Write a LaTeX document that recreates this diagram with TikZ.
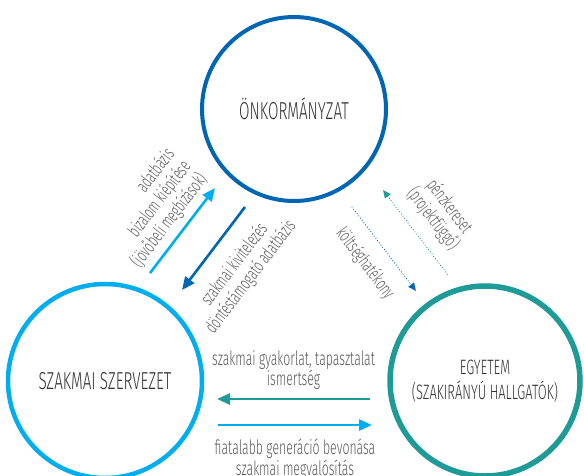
\documentclass[tikz,border=0pt]{standalone}
\usepackage{fontspec}
\setmainfont{Fira Sans Light}[FakeStretch=0.62]
\usetikzlibrary{arrows.meta, positioning, calc}
\definecolor{onkblue}{RGB}{0, 102, 179}
\definecolor{szakcyan}{RGB}{0, 174, 239}
\definecolor{egyteal}{RGB}{30, 155, 150}
\definecolor{labelgray}{RGB}{90, 90, 90}
\definecolor{actorgray}{RGB}{50, 50, 50}

\begin{document}
\begin{tikzpicture}[
        x=1pt, y=-1pt,
        actor/.style={circle, minimum size=#1, align=center, text=actorgray, font=\fontsize{24.5}{26}\selectfont},
        flow/.style={line width=2.6pt, >={Triangle[length=13pt, width=11pt]}},
        hint/.style={line width=1.3pt, line cap=round, dash pattern=on 0.01pt off 2.8pt, >={Triangle[length=8pt, width=7pt]}},
        lbl/.style={text=labelgray, font=\fontsize{18.6}{20.5}\selectfont, align=center, inner sep=1pt},
        flatlbl/.style={lbl, font=\fontsize{19.8}{18.5}\selectfont}
    ]
    \useasboundingbox (0,0) rectangle (584,475);

    % the three actors
    \node[actor=184pt, draw=onkblue, line width=4pt] (onk) at (294,109) {ÖNKORMÁNYZAT};
    \node[actor=194pt, draw=szakcyan, line width=4.5pt] (szak) at (105,381) {SZAKMAI SZERVEZET};
    \node[actor=190pt, draw=egyteal, line width=5.5pt, font=\fontsize{20.8}{25}\selectfont] (egy) at (485,381) {EGYETEM\\(SZAKIRÁNYÚ HALLGATÓK)};

    % szakmai szervezet <-> önkormányzat
    \coordinate (cyA) at (150,273);
    \coordinate (cyB) at (215,188);
    \draw[flow, szakcyan, ->] (cyA) -- (cyB)
        node[lbl, midway, sloped, above=5pt, align=right] {adatbázis\\bizalom kiépítése\\(jövőbeli megbízások)};
    \coordinate (dbA) at (182,290);
    \coordinate (dbB) at (245,207);
    \draw[flow, onkblue, <-] (dbA) -- (dbB)
        node[lbl, midway, sloped, below=15pt] {szakmai kivitelezés\\döntéstámogató adatbázis};

    % önkormányzat <-> egyetem
    \coordinate (dkA) at (352,207);
    \coordinate (dkB) at (416,291);
    \draw[hint, onkblue, ->] (dkA) -- (dkB)
        node[lbl, midway, sloped, below=13pt] {költséghatékony};
    \coordinate (tdA) at (383,190);
    \coordinate (tdB) at (448,275);
    \draw[hint, egyteal, <-] (tdA) -- (tdB)
        node[lbl, midway, sloped, above=11pt] {pénzkereset\\(projektfüggő)};

    % egyetem <-> szakmai szervezet
    \coordinate (htA) at (370,399);
    \coordinate (htB) at (217,399);
    \draw[flow, egyteal, ->] (htA) -- (htB)
        node[flatlbl, midway, above=7pt] {szakmai gyakorlat, tapasztalat\\ismertség};
    \coordinate (hcA) at (218,425);
    \coordinate (hcB) at (372,425);
    \draw[flow, szakcyan, ->] (hcA) -- (hcB)
        node[flatlbl, midway, below=12pt] {fiatalabb generáció bevonása\\szakmai megvalósítás};
\end{tikzpicture}
\end{document}
